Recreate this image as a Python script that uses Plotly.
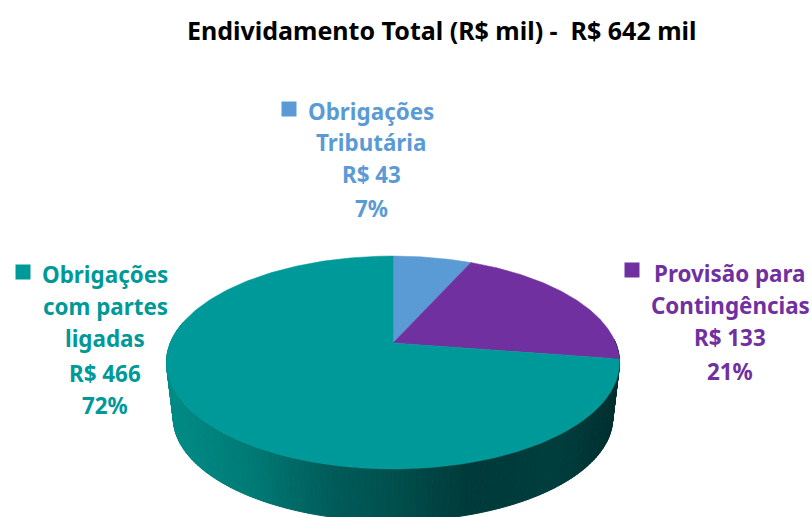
import numpy as np
import plotly.graph_objects as go

TITLE = "Endividamento Total (R$ mil) -\u00a0\u00a0R$ 642 mil"
categories = ["Obrigações Tributária", "Provisão para Contingências", "Obrigações com partes ligadas"]
values = [43, 133, 466]
colors = ["#5B9BD5", "#7030A0", "#009999"]
label_lines = [
    ["Obrigações", "Tributária", "R$ 43", "7%"],
    ["Provisão para", "Contingências", "R$ 133", "21%"],
    ["Obrigações", "com partes", "ligadas", "R$ 466", "72%"],
]
label_x = [371, 730, 105]
label_y = [[111, 142, 174, 208], [273, 305, 337, 371], [274, 306, 338, 373, 405]]
key_x = [289, 632, 23]
key_y = [109, 270, 272]

# pie projection (a tilted disc seen in perspective)
CX, CY, A, B, K = 393, 343, 222.7, 102.9, 0.183
DEPTH_SCALE = 0.97
SIDE_STOPS_X = [166, 250, 330, 393, 470, 560, 620]
SIDE_STOPS_RGB = [(0, 140, 135), (0, 122, 117), (0, 92, 90), (0, 80, 78), (0, 58, 58), (0, 62, 62), (0, 46, 46)]


def rim(theta, scale=1.0, yoff=0.0):
    w = 1 + K * np.cos(theta)
    x = CX + scale * A * np.sin(theta) / w
    y = CY + yoff - scale * B * np.cos(theta) / w
    return x, y


fig = go.Figure()

# visible side wall, drawn as thin strips shaded from left to right
BOTTOM_SHIFT = 56
t_side = np.linspace(np.radians(88), np.radians(282), 161)
for t0, t1 in zip(t_side[:-1], t_side[1:]):
    ts = np.array([t0, t1])
    xa, ya = rim(ts)
    xb, yb = rim(ts[::-1], DEPTH_SCALE, BOTTOM_SHIFT)
    xm = xa.mean()
    rgb = [np.interp(xm, SIDE_STOPS_X, [c[i] for c in SIDE_STOPS_RGB]) for i in range(3)]
    col = "rgb(%d,%d,%d)" % tuple(rgb)
    fig.add_trace(go.Scatter(
        x=np.r_[xa, xb, xa[0]], y=np.r_[ya, yb, ya[0]], mode="lines", fill="toself",
        fillcolor=col, line=dict(color=col, width=1), hoverinfo="skip", showlegend=False))

# top face: slices from the values
total = sum(values)
cum = np.cumsum([0] + values) / total * 2 * np.pi
for i, cat in enumerate(categories):
    t = np.linspace(cum[i], cum[i + 1], 240)
    x, y = rim(t)
    fig.add_trace(go.Scatter(
        x=np.r_[CX, x, CX], y=np.r_[CY, y, CY], mode="lines", fill="toself",
        fillcolor=colors[i], line=dict(color=colors[i], width=0.5), name=cat,
        hovertemplate=cat + ": %{text}<extra></extra>", text=[f"R$ {values[i]}"] * (len(t) + 2),
        showlegend=False))

# legend keys
fig.add_trace(go.Scatter(
    x=key_x, y=key_y, mode="markers", hoverinfo="skip", showlegend=False,
    marker=dict(symbol="square", size=15, color=colors, line=dict(width=0))))

annotations = [dict(x=442, y=30, text="<b>%s</b>" % TITLE, showarrow=False, xref="x", yref="y",
                    font=dict(family="Noto Sans", size=25, color="#000000"), xanchor="center", yanchor="middle")]
for lines, lx, lys, col in zip(label_lines, label_x, label_y, colors):
    for line, ly in zip(lines, lys):
        annotations.append(dict(x=lx, y=ly, text="<b>%s</b>" % line, showarrow=False, xref="x", yref="y",
                                font=dict(family="Noto Sans", size=22.4, color=col), xanchor="center", yanchor="middle"))

fig.update_layout(
    width=812, height=517, margin=dict(l=0, r=0, t=0, b=0),
    paper_bgcolor="white", plot_bgcolor="white", annotations=annotations,
    xaxis=dict(range=[0, 812], visible=False, fixedrange=True),
    yaxis=dict(range=[517, 0], visible=False, fixedrange=True),
)
fig.write_html("out.html", config=dict(displayModeBar=False),
               post_script="document.body.style.margin='0';document.body.style.overflow='hidden';")
